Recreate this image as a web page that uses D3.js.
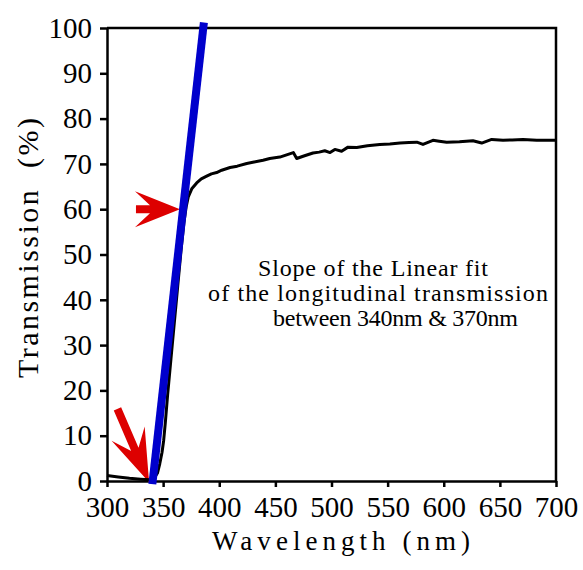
<script src="https://d3js.org/d3.v7.min.js"></script>

<style>
  body {
    margin: 0;
    background-color: #ffffff;
  }
  text {
    font-family: 'Liberation Serif', 'Times New Roman', serif;
    fill: #000;
  }
</style>

<div id="chart"></div>
<script>

  var wavelength = [300, 310, 320, 330, 338, 342, 345, 347, 349, 350.5, 352, 354, 357, 360, 363, 366,
    368.5, 370.5, 372.4, 375.5, 379.9, 384, 388.8, 393, 397.7, 402.2, 409.6, 416, 424.5, 431, 439,
    445, 454, 460, 466, 469, 476, 483.5, 489, 494, 498.7, 503, 509, 514.7, 522.5, 532, 543, 552,
    561, 569, 576, 581.5, 590.4, 596, 602.6, 614, 626, 633.8, 642.7, 652.8, 661, 670.6, 682.8, 692, 700];
  var transmission = [1.2, 0.9, 0.6, 0.4, 0.25, 0.6, 1.8, 3.8, 6.3, 9, 13, 19, 27, 35, 43, 51,
    57, 60.5, 62.7, 64.5, 65.8, 66.7, 67.3, 67.8, 68.1, 68.6, 69.2, 69.5, 70.1, 70.4, 70.8,
    71.2, 71.5, 72, 72.5, 71.2, 71.8, 72.4, 72.6, 72.9, 72.5, 73.2, 72.8, 73.7, 73.6, 74, 74.3, 74.4,
    74.6, 74.7, 74.8, 74.3, 75.2, 75, 74.8, 74.9, 75.1, 74.6, 75.4, 75.2, 75.3, 75.4, 75.2, 75.2, 75.2];

  // linear fit between 340nm and 370nm, drawn across the full rise
  var fitWavelength = [340.4, 386.3];
  var fitTransmission = [-0.7, 101.2];

  // annotation arrows: tip location in data units
  var arrowWavelength = [365, 337.5];
  var arrowTransmission = [60, -0.3];

  var xTicks = [300, 350, 400, 450, 500, 550, 600, 650, 700];
  var yTicks = [0, 10, 20, 30, 40, 50, 60, 70, 80, 90, 100];

  var noteLines = ["Slope of the Linear fit", "of the longitudinal transmission", "between 340nm & 370nm"];

  var svgWidth = 583, svgHeight = 570;
  var margin = { top: 28, right: 27, bottom: 89, left: 107 },
    width = svgWidth - margin.left - margin.right,
    height = svgHeight - margin.top - margin.bottom;

  var svg = d3.select("#chart")
    .append("svg")
    .attr("width", svgWidth)
    .attr("height", svgHeight)
    .append("g")
    .attr("transform", "translate(" + margin.left + "," + margin.top + ")");

  var x = d3.scaleLinear().domain([300, 700]).range([0, width]);
  var y = d3.scaleLinear().domain([0, 100]).range([height, 0]);

  // frame (top + right)
  svg.append("path")
    .attr("d", "M0,0H" + width + "V" + height)
    .attr("fill", "none")
    .attr("stroke", "#000")
    .attr("stroke-width", 2.5);

  // X axis
  var xAxis = svg.append("g")
    .attr("transform", "translate(0," + height + ")")
    .call(d3.axisBottom(x).tickValues(xTicks).tickSize(6).tickPadding(9).tickSizeOuter(0));
  xAxis.selectAll("text").style("font-size", "29px");

  // Y axis
  var yAxis = svg.append("g")
    .call(d3.axisLeft(y).tickValues(yTicks).tickSize(7).tickPadding(8).tickSizeOuter(0));
  yAxis.selectAll("text").style("font-size", "29px");

  svg.selectAll(".domain, .tick line")
    .attr("stroke", "#000")
    .attr("stroke-width", 2.5);

  // Axis labels
  svg.append("text")
    .attr("x", 105)
    .attr("y", height + 69)
    .attr("text-anchor", "start")
    .attr("textLength", 258)
    .attr("lengthAdjust", "spacing")
    .style("font-size", "27px")
    .text("Wavelength\u00a0(nm)");

  svg.append("text")
    .attr("transform", "translate(" + (-69) + "," + 350 + ")rotate(-90)")
    .attr("text-anchor", "start")
    .attr("textLength", 260)
    .attr("lengthAdjust", "spacing")
    .style("font-size", "30px")
    .text("Transmission\u00a0\u00a0(%)");

  // arrows (under the fit line)
  var arrowShapes = [
    [[-44, -4], [-30, -4], [-45, -18], [0, 0], [-45, 18], [-30, 4], [-44, 4]],
    [[-80, -4], [-36, -4], [-53, -18], [0, 0], [-53, 18], [-36, 4], [-80, 4]]
  ];
  var arrowAngles = [0, 66.7];

  svg.selectAll("arrows")
    .data(arrowWavelength)
    .enter()
    .append("polygon")
    .attr("points", function (d, i) { return arrowShapes[i].join(" "); })
    .attr("transform", function (d, i) {
      return "translate(" + x(d) + "," + y(arrowTransmission[i]) + ")rotate(" + arrowAngles[i] + ")";
    })
    .attr("fill", "#dd0000");

  // transmission curve
  var line = d3.line()
    .x(function (d) { return x(d[0]); })
    .y(function (d) { return y(d[1]); });

  svg.append("path")
    .datum(d3.zip(wavelength, transmission))
    .attr("d", line)
    .attr("fill", "none")
    .attr("stroke", "#000")
    .attr("stroke-width", 3)
    .attr("stroke-linejoin", "round");

  // linear fit
  svg.append("path")
    .datum(d3.zip(fitWavelength, fitTransmission))
    .attr("d", line)
    .attr("fill", "none")
    .attr("stroke", "#0000cc")
    .attr("stroke-width", 8);

  // note, each line placed where it sits in the original
  var noteStarts = [151, 101, 166];
  var noteWidths = [230, 340, 245];
  svg.selectAll("note")
    .data(noteLines)
    .enter()
    .append("text")
    .attr("x", function (d, i) { return noteStarts[i]; })
    .attr("y", function (d, i) { return 248 + i * 25; })
    .attr("text-anchor", "start")
    .attr("textLength", function (d, i) { return noteWidths[i]; })
    .attr("lengthAdjust", "spacing")
    .style("font-size", "24px")
    .text(function (d) { return d; });

</script>
